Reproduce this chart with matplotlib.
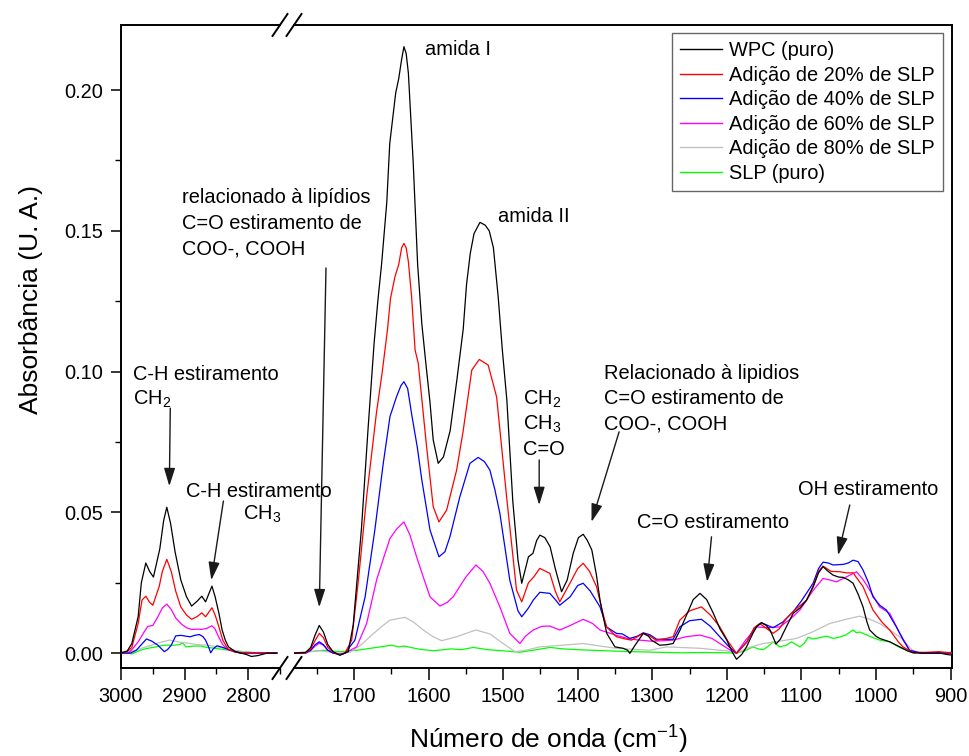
import matplotlib
matplotlib.use("Agg")
import matplotlib.pyplot as plt
from matplotlib.patches import ArrowStyle
from matplotlib.lines import Line2D

plt.rcParams['font.family'] = ['Liberation Sans', 'DejaVu Sans']
plt.rcParams['mathtext.fontset'] = 'custom'
plt.rcParams['mathtext.rm'] = 'Liberation Sans'
plt.rcParams['mathtext.it'] = 'Liberation Sans'

# ---------------- data (left segment: 3000-2755 cm-1) ----------------
wn_l_wpc = [3000, 2990, 2983, 2973, 2968, 2961, 2955, 2949, 2939, 2933, 2928, 2922, 2915, 2906, 2897,
            2889, 2880, 2873, 2867, 2862, 2857, 2852, 2846, 2841, 2836, 2831, 2820, 2803, 2795, 2785, 2770, 2755]
ab_l_wpc = [0.0, 0.0008, 0.0034, 0.013, 0.025, 0.032, 0.029, 0.027, 0.037, 0.047, 0.0518, 0.046, 0.036, 0.026, 0.020,
            0.0167, 0.0185, 0.0202, 0.0182, 0.021, 0.0238, 0.020, 0.0141, 0.0082, 0.0046, 0.0022, 0.0005, -0.0005, -0.0012, -0.0009, 0.0, 0.0]

wn_l_20 = [3000, 2990, 2983, 2973, 2967, 2961, 2955, 2950, 2940, 2935, 2928, 2921, 2914, 2906, 2897, 2889, 2880,
           2873, 2867, 2862, 2857, 2852, 2847, 2840, 2832, 2820, 2800, 2755]
ab_l_20 = [0.0, 0.0005, 0.002, 0.0105, 0.0188, 0.0202, 0.018, 0.017, 0.0236, 0.029, 0.0333, 0.029, 0.022, 0.0164, 0.0135,
           0.012, 0.013, 0.0143, 0.0129, 0.0145, 0.0161, 0.0135, 0.010, 0.0046, 0.0015, 0.0003, 0.0, 0.0]

wn_l_40 = [3000, 2985, 2976, 2968, 2960, 2952, 2942, 2935, 2932, 2927, 2921, 2914, 2906, 2898, 2891, 2884, 2877,
           2871, 2867, 2862, 2859, 2855, 2849, 2840, 2830, 2813, 2755]
ab_l_40 = [0.0, 0.0, 0.001, 0.003, 0.005, 0.0043, 0.0028, 0.0012, 0.0005, 0.0012, 0.0028, 0.0061, 0.0063, 0.006, 0.0058,
           0.0063, 0.0066, 0.0058, 0.0046, 0.002, 0.0001, 0.0015, 0.0026, 0.002, 0.0012, 0.0, 0.0]

wn_l_60 = [3000, 2988, 2980, 2973, 2965, 2958, 2950, 2943, 2935, 2928, 2921, 2914, 2906, 2897, 2889, 2880, 2873,
           2865, 2857, 2852, 2846, 2840, 2832, 2820, 2800, 2755]
ab_l_60 = [0.0, 0.0, 0.002, 0.004, 0.007, 0.0095, 0.0098, 0.0125, 0.016, 0.0174, 0.0155, 0.0125, 0.0105, 0.009, 0.0084,
           0.0085, 0.0084, 0.0088, 0.0097, 0.0085, 0.0055, 0.003, 0.0012, 0.0003, 0.0, 0.0]

wn_l_80 = [3000, 2985, 2970, 2950, 2935, 2924, 2910, 2895, 2880, 2865, 2854, 2840, 2822, 2800, 2790, 2755]
ab_l_80 = [0.0, 0.0005, 0.0015, 0.003, 0.004, 0.0046, 0.004, 0.0035, 0.003, 0.0028, 0.0025, 0.0018, 0.001, 0.0003, 0.0, 0.0]

wn_l_slp = [3000, 2990, 2983, 2970, 2958, 2945, 2932, 2916, 2908, 2903, 2898, 2885, 2875, 2865, 2855, 2840, 2829,
            2815, 2803, 2790, 2770, 2755]
ab_l_slp = [0.0005, 0.0, -0.0003, 0.001, 0.0017, 0.0022, 0.0028, 0.0028, 0.003, 0.0037, 0.0022, 0.0025, 0.0025, 0.002,
            0.0018, 0.0013, 0.001, 0.0006, 0.0004, 0.0002, 0.0, 0.0]

# ---------------- data (right segment: 1780-900 cm-1) ----------------
wn_r_wpc = [1780, 1765, 1758, 1752, 1746.5, 1741, 1735, 1728, 1719, 1712, 1707.6, 1701, 1690, 1681, 1673, 1668,
            1663, 1656, 1652, 1644, 1640, 1636, 1633, 1630, 1627, 1620.5, 1614.6, 1609, 1604, 1598, 1593.7, 1587,
            1580, 1571, 1562, 1553.5, 1549, 1544, 1539, 1531, 1524, 1518.6, 1513, 1506.6, 1501, 1495, 1487, 1480,
            1475, 1470, 1466, 1460, 1455, 1450.7, 1444, 1437, 1430, 1421.6, 1414, 1406, 1399, 1392.6, 1387, 1381,
            1375, 1370, 1365, 1361, 1350, 1339, 1333, 1330, 1323, 1312, 1305, 1301, 1290, 1280, 1272, 1263, 1254,
            1245, 1236, 1227, 1218, 1209, 1200, 1193, 1187, 1180, 1173.6, 1165, 1160, 1153.5, 1147, 1142, 1134,
            1128, 1124.5, 1117, 1111, 1102, 1093, 1084, 1077, 1071, 1064, 1057.5, 1050, 1044, 1037, 1030.7, 1024,
            1017.3, 1012, 1008.4, 1000, 995, 981.5, 968, 958, 950, 935, 914, 905, 898]
ab_r_wpc = [0.0, 0.0002, 0.002, 0.0065, 0.0098, 0.0075, 0.003, 0.0005, -0.0008, 0.0, 0.0005, 0.010, 0.044, 0.080,
            0.110, 0.125, 0.138, 0.160, 0.181, 0.199, 0.204, 0.211, 0.2154, 0.213, 0.206, 0.174, 0.138, 0.117, 0.104,
            0.089, 0.0757, 0.0674, 0.0697, 0.079, 0.097, 0.115, 0.131, 0.142, 0.149, 0.153, 0.152, 0.150, 0.144,
            0.1266, 0.1076, 0.090, 0.054, 0.033, 0.0248, 0.030, 0.0342, 0.0354, 0.040, 0.0419, 0.041, 0.0378, 0.030,
            0.0218, 0.026, 0.0354, 0.041, 0.0422, 0.040, 0.0366, 0.028, 0.0188, 0.012, 0.007, 0.0022, 0.0017, 0.001,
            -0.0001, 0.0028, 0.007, 0.006, 0.0046, 0.0028, 0.003, 0.0034, 0.008, 0.0135, 0.019, 0.0212, 0.019,
            0.0141, 0.0085, 0.0046, 0.0005, -0.0022, -0.0005, 0.0022, 0.007, 0.0093, 0.0108, 0.0098, 0.0082, 0.0032,
            0.005, 0.007, 0.011, 0.0141, 0.016, 0.0188, 0.0236, 0.0285, 0.0307, 0.029, 0.0277, 0.027, 0.0269, 0.026,
            0.0248, 0.021, 0.0164, 0.011, 0.0082, 0.006, 0.0052, 0.004, 0.0022, 0.0008, 0.0001, 0.0, 0.0, -0.0005,
            -0.0007]

wn_r_20 = [1780, 1765, 1758, 1752, 1746.5, 1741, 1735, 1728, 1719, 1712, 1703, 1694, 1683, 1670, 1662, 1655, 1651,
           1645, 1640, 1636, 1633, 1630, 1627, 1622.7, 1618, 1613.8, 1602.6, 1593.7, 1586, 1575.7, 1562.3, 1553.5,
           1542, 1532, 1520, 1508.7, 1495.3, 1482, 1475, 1466, 1459, 1450.7, 1437.3, 1430, 1424, 1410, 1400, 1392.6,
           1384, 1374.7, 1367, 1361.3, 1347.9, 1336, 1327.7, 1312.2, 1303, 1295, 1281, 1272, 1263, 1250, 1234, 1222,
           1209.4, 1198, 1187, 1173, 1163, 1155.8, 1147, 1138, 1130, 1120, 1110, 1093, 1084, 1077, 1071, 1060,
           1048.5, 1040, 1030.7, 1017.3, 1004, 992, 981.5, 970, 963.7, 950, 930, 915, 898]
ab_r_20 = [0.0, 0.0, 0.0015, 0.0045, 0.007, 0.0055, 0.002, 0.0003, -0.0006, 0.0, 0.0046, 0.026, 0.0555, 0.085, 0.100,
           0.115, 0.126, 0.1337, 0.138, 0.144, 0.1455, 0.144, 0.139, 0.1266, 0.1076, 0.103, 0.0733, 0.052, 0.0466,
           0.0508, 0.065, 0.079, 0.1005, 0.1043, 0.1023, 0.091, 0.0555, 0.0224, 0.0182, 0.025, 0.027, 0.0301, 0.0283,
           0.022, 0.0182, 0.025, 0.030, 0.0319, 0.029, 0.0236, 0.015, 0.0093, 0.0058, 0.005, 0.0046, 0.007, 0.006,
           0.0046, 0.0052, 0.0058, 0.0117, 0.015, 0.0164, 0.0135, 0.0093, 0.004, -0.0001, 0.004, 0.009, 0.0105,
           0.0088, 0.007, 0.0085, 0.0123, 0.015, 0.0188, 0.024, 0.029, 0.0309, 0.029, 0.0289, 0.0285, 0.0285, 0.0236,
           0.0153, 0.011, 0.0082, 0.004, 0.0022, 0.0001, 0.0003, 0.0005, 0.0]

wn_r_40 = [1780, 1765, 1758, 1752, 1746.5, 1741, 1735, 1728, 1719, 1712, 1698.7, 1685, 1672, 1660.7, 1651.7, 1643,
           1637, 1633, 1628, 1622.7, 1615, 1609, 1598, 1586, 1578, 1571.3, 1558, 1544.5, 1533.4, 1525, 1517.7, 1511,
           1504.3, 1491, 1480, 1475, 1466, 1459.6, 1450.7, 1437.3, 1430, 1424, 1410, 1400, 1392.6, 1383, 1370,
           1361.3, 1348, 1340, 1330, 1320, 1312, 1303, 1294, 1272, 1263, 1250, 1234, 1222, 1209.4, 1198, 1187, 1173,
           1163, 1153.5, 1145, 1138, 1125, 1111, 1100, 1084.3, 1077, 1071, 1064, 1057.5, 1044, 1037, 1030.7, 1024,
           1017.3, 1010, 1004, 995, 986, 972.6, 963, 955, 940, 898]
ab_r_40 = [0.0, 0.0, 0.001, 0.003, 0.004, 0.003, 0.001, 0.0, -0.0005, 0.0, 0.0046, 0.020, 0.0437, 0.0674, 0.084, 0.091,
           0.095, 0.0964, 0.094, 0.085, 0.073, 0.0615, 0.0437, 0.0342, 0.036, 0.0413, 0.0555, 0.0674, 0.0695, 0.068,
           0.065, 0.058, 0.0496, 0.0259, 0.015, 0.0129, 0.016, 0.0188, 0.0216, 0.0212, 0.019, 0.017, 0.020, 0.024,
           0.0248, 0.022, 0.0164, 0.0093, 0.007, 0.0068, 0.0052, 0.006, 0.0072, 0.0065, 0.0049, 0.0049, 0.0093,
           0.0115, 0.012, 0.0095, 0.0058, 0.0025, -0.0001, 0.004, 0.009, 0.0108, 0.0098, 0.009, 0.011, 0.0147,
           0.0185, 0.0248, 0.030, 0.0323, 0.032, 0.0313, 0.0315, 0.032, 0.033, 0.0325, 0.0295, 0.025, 0.020, 0.017,
           0.0153, 0.0093, 0.0045, 0.001, 0.0, 0.0]

wn_r_60 = [1780, 1765, 1758, 1752, 1746.5, 1741, 1735, 1728, 1719, 1712, 1696.4, 1683, 1669.6, 1660, 1651.7, 1643,
           1633, 1625, 1616, 1607, 1598, 1584.7, 1575, 1566.9, 1550, 1536.5, 1527, 1517.7, 1504.3, 1491, 1477.5,
           1470, 1459.6, 1448, 1437.3, 1424, 1410, 1392.6, 1380, 1370, 1348, 1330, 1316.7, 1300, 1272, 1255, 1236,
           1220, 1209.4, 1195, 1187, 1175, 1160, 1147, 1129, 1115, 1102, 1085, 1071, 1062, 1053, 1040, 1026, 1017,
           1008.4, 995, 981.5, 968, 955, 940, 898]
ab_r_60 = [0.0, 0.0, 0.001, 0.0025, 0.0035, 0.0028, 0.001, 0.0, -0.0004, 0.0, 0.0022, 0.0105, 0.026, 0.034, 0.0407,
           0.044, 0.0466, 0.042, 0.0342, 0.027, 0.020, 0.0167, 0.018, 0.020, 0.027, 0.0313, 0.029, 0.0248, 0.0164,
           0.007, 0.0034, 0.006, 0.0082, 0.0095, 0.0096, 0.0082, 0.0098, 0.012, 0.0105, 0.0082, 0.0063, 0.005,
           0.0046, 0.0042, 0.0046, 0.0058, 0.0064, 0.0052, 0.0034, 0.001, 0.0, 0.0045, 0.0093, 0.009, 0.0093, 0.012,
           0.0153, 0.022, 0.0265, 0.026, 0.0253, 0.027, 0.0289, 0.026, 0.0224, 0.0164, 0.0141, 0.007, 0.001, 0.0, 0.0]

wn_r_80 = [1780, 1746, 1720, 1705, 1690, 1678.6, 1665, 1651.7, 1631.6, 1620, 1607, 1595, 1582.5, 1562.3, 1536.5,
           1517.7, 1500, 1484, 1470, 1450.7, 1420, 1392.6, 1370, 1348, 1303, 1281, 1236, 1200, 1187, 1170, 1151,
           1130, 1106.6, 1085, 1062, 1040, 1022, 1008, 995, 968, 950, 930, 898]
ab_r_80 = [0.0, 0.0008, 0.0, 0.0003, 0.003, 0.0058, 0.009, 0.0117, 0.0127, 0.011, 0.0082, 0.006, 0.0044, 0.0058,
           0.0082, 0.0068, 0.0034, 0.0005, 0.001, 0.0022, 0.0028, 0.0034, 0.0025, 0.0017, 0.001, 0.0022, 0.0017,
           0.0008, 0.0, 0.002, 0.0034, 0.0042, 0.0052, 0.0075, 0.0105, 0.012, 0.0131, 0.012, 0.0105, 0.0058, 0.0007,
           0.0, 0.0]

wn_r_slp = [1780, 1760, 1741, 1720, 1696, 1670, 1649.5, 1640, 1632, 1615, 1593.7, 1570, 1556, 1540, 1520, 1500,
            1477.5, 1460, 1437, 1420, 1400, 1370, 1340, 1310, 1280, 1263, 1230, 1200, 1187, 1176, 1164.7, 1158, 1151,
            1144, 1138, 1133, 1129, 1120, 1113.3, 1107, 1102, 1096, 1091, 1084, 1075, 1066.4, 1057, 1048.5, 1040,
            1030.7, 1026, 1022, 1013, 1004, 995, 981.5, 968, 950, 930, 898]
ab_r_slp = [0.0, 0.0005, 0.001, 0.0005, 0.001, 0.002, 0.0028, 0.0022, 0.0025, 0.0015, 0.0008, 0.0015, 0.0012, 0.002,
            0.0012, 0.0008, 0.0003, 0.001, 0.002, 0.0015, 0.0012, 0.0009, 0.0006, 0.0004, 0.0002, 0.0001, 0.0002,
            0.0001, 0.0, 0.0008, 0.0022, 0.0015, 0.0012, 0.0025, 0.004, 0.003, 0.0022, 0.0028, 0.004, 0.003, 0.0022,
            0.0035, 0.0056, 0.005, 0.0055, 0.006, 0.0052, 0.0057, 0.0065, 0.0082, 0.0072, 0.0075, 0.0065, 0.0055,
            0.0046, 0.004, 0.002, 0.0002, 0.0, 0.0003]

labels = ["WPC (puro)", "Adição de 20% de SLP", "Adição de 40% de SLP",
          "Adição de 60% de SLP", "Adição de 80% de SLP", "SLP (puro)"]
colors = ["#000000", "#ff0000", "#0000ff", "#ff00ff", "#c0c0c0", "#00ff00"]

left_series = [(wn_l_wpc, ab_l_wpc), (wn_l_20, ab_l_20), (wn_l_40, ab_l_40),
               (wn_l_60, ab_l_60), (wn_l_80, ab_l_80), (wn_l_slp, ab_l_slp)]
right_series = [(wn_r_wpc, ab_r_wpc), (wn_r_20, ab_r_20), (wn_r_40, ab_r_40),
                (wn_r_60, ab_r_60), (wn_r_80, ab_r_80), (wn_r_slp, ab_r_slp)]

# ---------------- figure ----------------
W, H = 970, 756
fig = plt.figure(figsize=(W / 100, H / 100), dpi=100)

def fx(px):
    return px / W

def fy(py):
    return 1 - py / H

ax_top, ax_bot = 25, 668
axL = fig.add_axes([fx(121), fy(ax_bot), fx(280) - fx(121), (ax_bot - ax_top) / H])
axR = fig.add_axes([fx(294), fy(ax_bot), fx(952) - fx(294), (ax_bot - ax_top) / H])

ylim = (-0.0053, 0.2231)
FS = 14.4

order = [5, 4, 3, 2, 1, 0]
for i in order:
    x, y = left_series[i]
    axL.plot(x, y, color=colors[i], lw=0.9, zorder=2 + (5 - i))
    x, y = right_series[i]
    axR.plot(x, y, color=colors[i], lw=0.9, zorder=2 + (5 - i))

axL.set_xlim(3000, 2753.5)
axR.set_xlim(1780.4, 898)
for ax in (axL, axR):
    ax.set_ylim(*ylim)
    for s in ax.spines.values():
        s.set_linewidth(1.4)
    ax.tick_params(axis='both', which='major', direction='out', length=8.5, width=1.1,
                   labelsize=FS, pad=5)
    ax.tick_params(axis='both', which='minor', direction='out', length=4.5, width=1.0)

axL.spines['right'].set_visible(False)
axR.spines['left'].set_visible(False)
axL.set_xticks([3000, 2900, 2800])
axL.set_xticks([2950, 2850, 2750], minor=True)
axR.set_xticks([1700, 1600, 1500, 1400, 1300, 1200, 1100, 1000, 900])
axR.set_xticks([1750, 1650, 1550, 1450, 1350, 1250, 1150, 1050, 950], minor=True)
axL.set_yticks([0.0, 0.05, 0.10, 0.15, 0.20])
axL.set_yticks([0.025, 0.075, 0.125, 0.175], minor=True)
axL.set_yticklabels(["0.00", "0.05", "0.10", "0.15", "0.20"])
axL.tick_params(axis='y', which='major', length=7, pad=6)
axR.tick_params(axis='y', which='both', left=False, labelleft=False)

# break marks
for xc in (280, 294):
    for yc in (ax_top, ax_bot):
        fig.add_artist(Line2D([fx(xc - 7.5), fx(xc + 7.5)], [fy(yc + 11), fy(yc - 11)],
                              transform=fig.transFigure, color='black', lw=1.4))

# axis labels
fig.text(fx(31), fy(300), "Absorbância (U. A.)", rotation=90, ha='center', va='center', fontsize=19)
fig.text(fx(548), fy(740), "Número de onda (cm$^{-1}$)", ha='center', va='center', fontsize=19)

# legend
handles = [Line2D([], [], color=c, lw=1.0) for c in colors]
leg = fig.legend(handles, labels, loc='upper right', bbox_to_anchor=(fx(943), fy(33)),
                 bbox_transform=fig.transFigure, fontsize=FS, frameon=True, fancybox=False,
                 edgecolor='#666666', framealpha=1, borderpad=0.4, labelspacing=0.28,
                 handlelength=2.1, handletextpad=0.35, borderaxespad=0)
leg.get_frame().set_linewidth(1.0)

# annotation texts (baseline positions, pixels)
texts = [
    (133, 380, "C-H estiramento"), (133, 405, "CH$_2$"),
    (186, 497, "C-H estiramento"), (243, 520, "CH$_3$"),
    (182, 203, "relacionado à lipídios"), (182, 229, "C=O estiramento de"), (182, 254, "COO-, COOH"),
    (425, 55, "amida I"), (498, 222, "amida II"),
    (523, 405, "CH$_2$"), (523, 430, "CH$_3$"), (523, 455, "C=O"),
    (604, 379, "Relacionado à lipidios"), (604, 404, "C=O estiramento de"), (604, 429, "COO-, COOH"),
    (637, 528, "C=O estiramento"), (798, 495, "OH estiramento"),
]
for px, py, t in texts:
    fig.text(fx(px), fy(py), t, ha='left', va='baseline', fontsize=FS)

# arrows (data coords): (axis, tip, start)
arrows = [
    (axL, (2924, 0.0593), (2922.5, 0.087)),
    (axL, (2858, 0.0259), (2839, 0.0540)),
    (axR, (1746.5, 0.0163), (1737.5, 0.1368)),
    (axR, (1451.6, 0.0526), (1451.6, 0.0686)),
    (axR, (1381.4, 0.0466), (1344.4, 0.0786)),
    (axR, (1226.4, 0.0253), (1220.5, 0.0413)),
    (axR, (1050.8, 0.0348), (1035.1, 0.0526)),
]
style = ArrowStyle('-|>', head_length=0.55, head_width=0.17)
for ax, tip, start in arrows:
    ax.annotate("", xy=tip, xytext=start, xycoords='data', textcoords='data',
                arrowprops=dict(arrowstyle=style, mutation_scale=20, color='#1a1a1a', lw=1.0,
                                shrinkA=0, shrinkB=0), annotation_clip=False)

fig.savefig("out.png", dpi=100)
